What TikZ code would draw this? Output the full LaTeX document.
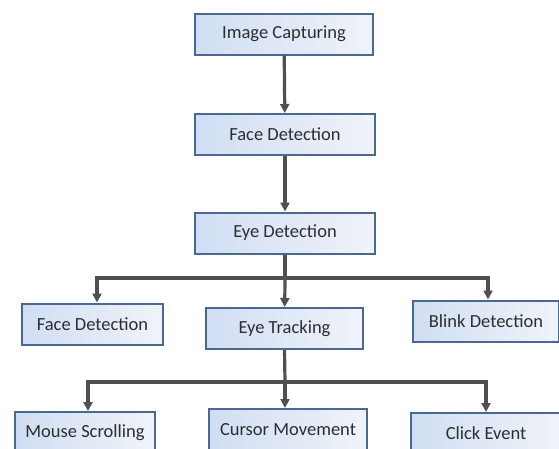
\documentclass[tikz,border=0pt]{standalone}
\usepackage{fontspec}
\setmainfont{Carlito}
\usetikzlibrary{arrows.meta}
\definecolor{boxline}{RGB}{74,104,145}
\definecolor{boxleft}{RGB}{208,222,243}
\definecolor{boxright}{RGB}{240,243,249}
\definecolor{arrgray}{RGB}{80,80,80}
\definecolor{txtgray}{RGB}{45,45,50}

\begin{document}
\begin{tikzpicture}[x=1pt,y=-1pt,
    blk/.style={draw=boxline,line width=2pt,left color=boxleft,right color=boxright,
      minimum height=41pt,inner sep=0pt,text=txtgray,font=\fontsize{18.5}{22}\selectfont},
    arr/.style={draw=arrgray,line width=3.2pt,-{Triangle[length=9pt,width=9pt]}}]
     \useasboundingbox (0,0) rectangle (559,448);
     \clip (0,0) rectangle (559,448);
     \node[blk,minimum width=178pt] (cap)   at (284,34)      {Image Capturing};
     \node[blk,minimum width=180pt] (face)  at (285,134.5)   {Face Detection};
     \node[blk,minimum width=180pt] (eye)   at (285,233)     {Eye Detection};
     \node[blk,minimum width=141pt] (face2) at (92.5,324)    {Face Detection};
     \node[blk,minimum width=157pt] (track) at (284.5,328.5) {Eye Tracking};
     \node[blk,minimum width=146pt] (blink) at (486,321)     {Blink Detection};
     \node[blk,minimum width=140pt] (mouse) at (85,432.5)    {Mouse Scrolling};
     \node[blk,minimum width=158pt] (cursor) at (288,429.5)  {Cursor Movement};
     \node[blk,minimum width=150pt] (click) at (486,433.5)   {Click Event};
     \coordinate (s1) at (285,278);
     \coordinate (s2) at (285,382);
     \draw[arr] (cap) -- (face);
     \draw[arr] (face) -- (eye);
     \draw[draw=arrgray,line width=3.2pt] (eye.south) -- (s1);
     \draw[arr] (s1) -| ([xshift=4.5pt]face2.north);
     \draw[arr] (s1) -- (track);
     \draw[arr] (s1) -| ([xshift=2pt]blink.north);
     \draw[draw=arrgray,line width=3.2pt] (track.south) -- (s2);
     \draw[arr] (s2) -| ([xshift=3pt]mouse.north);
     \draw[arr] (s2) -- (s2 |- cursor.north);
     \draw[arr] (s2) -| (click.north);
\end{tikzpicture}
\end{document}
